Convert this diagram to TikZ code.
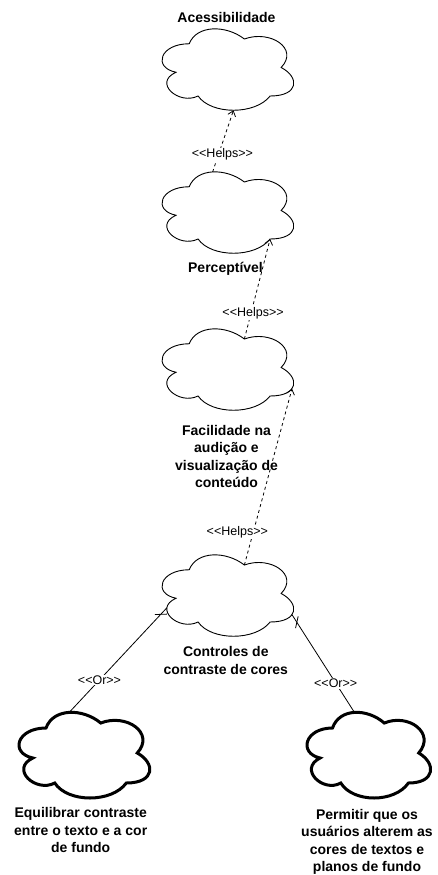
\documentclass[tikz,border=0pt]{standalone}
\usepackage{fontspec}
\setmainfont{Liberation Sans}
\newfontfamily\plainfont{Liberation Sans}
\usetikzlibrary{arrows.meta,calc}

\tikzset{
  % drawio-style cloud on the unit square, y pointing down
  cloud/.pic={
    \draw[pic actions] (0.25,0.25) .. controls (0.05,0.25) and (0,0.5) .. (0.16,0.55)
      .. controls (0,0.66) and (0.18,0.9) .. (0.31,0.8)
      .. controls (0.4,1) and (0.7,1) .. (0.8,0.8)
      .. controls (1,0.8) and (1,0.6) .. (0.875,0.5)
      .. controls (1,0.3) and (0.8,0.1) .. (0.625,0.2)
      .. controls (0.5,0.05) and (0.3,0.05) .. (0.25,0.25) -- cycle;
    \coordinate (-n)  at (0.409,0.094);
    \coordinate (-s)  at (0.551,0.95);
    \coordinate (-ne) at (0.625,0.2);
    \coordinate (-se) at (0.8,0.8);
    \coordinate (-e)  at (0.949,0.723);
    \coordinate (-w)  at (0.098,0.65);
  },
  cloudsize/.style 2 args={xscale=#1, yscale=#2},
  thincloud/.style={line width=0.9pt, draw=black, fill=white},
  boldcloud/.style={line width=3pt, draw=black, fill=white},
  helps/.style={draw=black, line width=0.8pt, dash pattern=on 3pt off 3pt,
    -{Straight Barb[length=5pt,width=8pt]}},
  orline/.style={draw=black, line width=0.8pt},
  lbl/.style={font=\plainfont\fontsize{12.5}{15}\selectfont, fill=white, inner sep=1pt},
  title/.style={font=\bfseries\fontsize{14}{17.5}\selectfont, align=center, inner sep=0pt},
}

% crossing stroke near the end of an <<Or>> link: #1 end, #2 start
\newcommand\ortick[3]{%
  \coordinate (#3) at ($(#1)!9pt!(#2)$);
  \draw[orline] ($(#3)!6pt!135:(#2)$) -- ($(#3)!6pt!-45:(#2)$);
}

\begin{document}
\begin{tikzpicture}[x=1pt,y=-1pt]
  \fill[white] (0,0) rectangle (437,875);
  \useasboundingbox (0,0) rectangle (437,875);

  % clouds
  \pic[thincloud, cloudsize={147}{95}] (c1) at (152.5,20)  {cloud};
  \pic[thincloud, cloudsize={147}{95}] (c2) at (152.5,163) {cloud};
  \pic[thincloud, cloudsize={147}{95}] (c3) at (152.5,320) {cloud};
  \pic[thincloud, cloudsize={147}{95}] (c4) at (152.5,546) {cloud};
  \pic[boldcloud, cloudsize={146}{100}] (c5) at (9.5,703) {cloud};
  \pic[boldcloud, cloudsize={138}{100}] (c6) at (298,703) {cloud};

  % titles
  \node[title] (t1) at (226.5,17.5) {Acessibilidade};
  \node[title] (t2) at (225.5,268.5) {Perceptível};
  \node[title] (t3) at (226.5,456.5) {Facilidade na\\audição e\\visualização de\\conteúdo};
  \node[title] (t4) at (225.8,660.5) {Controles de\\contraste de cores};
  \node[title] (t5) at (80.7,830) {Equilibrar contraste\\entre o texto e a cor\\de fundo};
  \node[title] (t6) at (367,842) {Permitir que os\\usuários alterem as\\cores de textos e\\planos de fundo};

  % <<Helps>> links
  \draw[helps] (c2-n) -- node[lbl, pos=.28, xshift=4pt] (h1) {<<Helps>>} (c1-s);
  \draw[helps] (c3-ne) -- node[lbl, pos=.26, xshift=2pt] (h2) {<<Helps>>} (c2-se);
  \draw[helps] (c4-ne) -- node[lbl, pos=.187, xshift=-16pt] (h3) {<<Helps>>} (c3-e);

  % <<Or>> links
  \draw[orline] (c5-n) -- node[lbl, pos=.31] (o1) {<<Or>>} (c4-w);
  \draw[orline] (c6-n) -- node[lbl, pos=.30] (o2) {<<Or>>} (c4-e);
  \ortick{c4-w}{c5-n}{k1}
  \ortick{c4-e}{c6-n}{k2}
\end{tikzpicture}
\end{document}
